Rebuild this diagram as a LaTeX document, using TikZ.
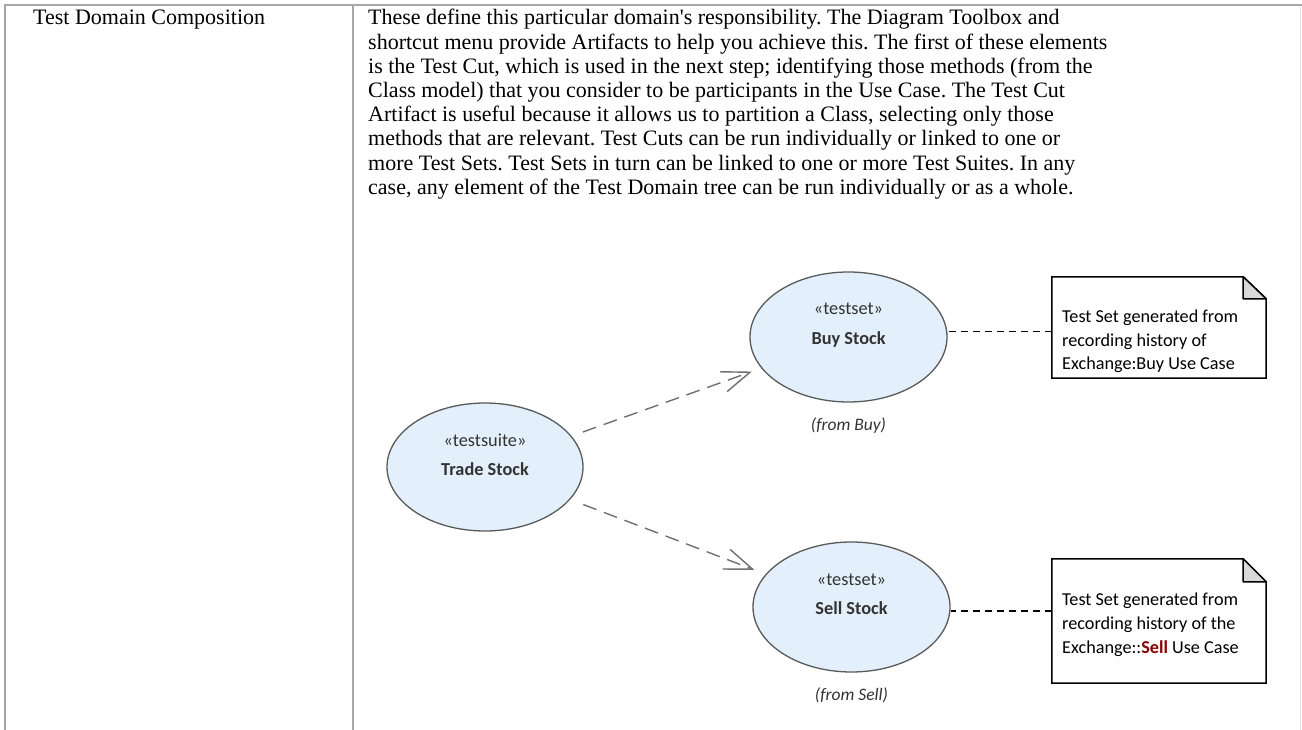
\documentclass[tikz,border=0pt]{standalone}
\usepackage{fontspec}
\setmainfont{Liberation Serif}[Ligatures=TeXOff]
\newfontfamily\calfont{Carlito}
\usetikzlibrary{shapes.geometric,arrows.meta,calc}
\definecolor{tablegray}{HTML}{A6A6A6}
\definecolor{ucfill}{HTML}{E3EFFB}
\definecolor{ucdraw}{HTML}{5A5A5A}
\definecolor{ucarrow}{HTML}{707070}
\definecolor{uctext}{HTML}{333333}
\definecolor{foldgray}{HTML}{D9D9D9}
\definecolor{sellred}{HTML}{8B0000}
\frenchspacing
\begin{document}
\begin{tikzpicture}[x=1pt,y=-1pt,
  tableline/.style={draw=tablegray,line width=2pt},
  bodytext/.style={anchor=base west,inner sep=0pt,font=\fontsize{22}{24.2}\selectfont},
  usecase/.style={ellipse,draw=ucdraw,fill=ucfill,line width=1.3pt,minimum width=196pt,minimum height=128pt,inner sep=0pt},
  stereo/.style={inner sep=0pt,text=uctext,font=\calfont\fontsize{18.3}{20}\selectfont},
  ucname/.style={inner sep=0pt,text=uctext,font=\calfont\bfseries\fontsize{18.3}{20}\selectfont},
  fromtxt/.style={inner sep=0pt,text=uctext,font=\calfont\itshape\fontsize{17.5}{20}\selectfont},
  notebox/.style={rectangle,inner sep=0pt},
  notetext/.style={anchor=north west,inner sep=0pt,align=left,font=\calfont\fontsize{18.2}{23.7}\selectfont},
  depend/.style={draw=ucarrow,line width=1.4pt,dash pattern=on 14pt off 8pt,-{Straight Barb[length=28pt,width=21pt,line width=1.4pt]}},
  notelink/.style={draw=black,line width=1.3pt,dash pattern=on 7pt off 5pt}
]
\useasboundingbox (0,0) rectangle (1302,730);
\fill[white] (0,0) rectangle (1302,730);

% table frame
\draw[tableline] (5,5) -- (1302,5);
\draw[tableline] (5,4) -- (5,730);
\draw[tableline] (353,4) -- (353,730);
\draw[draw=black!12,line width=1.5pt] (1300.5,6) -- (1300.5,730);

% table texts
\node[bodytext] (lbl) at (33,25) {Test Domain Composition};
\node[bodytext] (t1) at (368,25) {These define this particular domain's responsibility. The Diagram Toolbox and};
\node[bodytext] (t2) at (368,49.2) {shortcut menu provide Artifacts to help you achieve this. The first of these elements};
\node[bodytext] (t3) at (368,73.4) {is the Test Cut, which is used in the next step; identifying those methods (from the};
\node[bodytext] (t4) at (368,97.6) {Class model) that you consider to be participants in the Use Case. The Test Cut};
\node[bodytext] (t5) at (368,121.8) {Artifact is useful because it allows us to partition a Class, selecting only those};
\node[bodytext] (t6) at (368,146) {methods that are relevant. Test Cuts can be run individually or linked to one or};
\node[bodytext] (t7) at (368,170.2) {more Test Sets. Test Sets in turn can be linked to one or more Test Suites. In any};
\node[bodytext] (t8) at (368,194.4) {case, any element of the Test Domain tree can be run individually or as a whole.};

% use cases
\node[usecase] (trade) at (485,467) {};
\node[stereo] (tradeS) at (485,440.5) {«testsuite»};
\node[ucname] (tradeN) at (485,469.5) {Trade Stock};

\node[usecase,minimum width=197pt,minimum height=130pt] (buy) at (848.5,337) {};
\node[stereo] (buyS) at (848.5,308.5) {«testset»};
\node[ucname] (buyN) at (848.5,339.5) {Buy Stock};
\node[fromtxt] (buyF) at (848.5,425.5) {(from Buy)};

\node[usecase,minimum width=197pt,minimum height=130pt] (sell) at (851.5,607) {};
\node[stereo] (sellS) at (851.5,579.5) {«testset»};
\node[ucname] (sellN) at (851.5,608.5) {Sell Stock};
\node[fromtxt] (sellF) at (851.5,695.5) {(from Sell)};

% notes
\node[notebox,minimum width=214pt,minimum height=101pt] (n1) at (1159,327.5) {};
\filldraw[fill=white,draw=black,line width=1.5pt]
  (n1.north west) -- ($(n1.north east)+(-23,0)$) -- ($(n1.north east)+(0,22)$) -- (n1.south east) -- (n1.south west) -- cycle;
\filldraw[fill=foldgray,draw=black,line width=1.5pt,line join=round]
  ($(n1.north east)+(-23,0)$) -- ($(n1.north east)+(-23,22)$) -- ($(n1.north east)+(0,22)$) -- cycle;
\node[notetext] (n1t) at (1062,309.5) {Test Set generated from\\recording history of\\Exchange:Buy Use Case};

\node[notebox,minimum width=214pt,minimum height=124pt] (n2) at (1159,621) {};
\filldraw[fill=white,draw=black,line width=1.5pt]
  (n2.north west) -- ($(n2.north east)+(-23,0)$) -- ($(n2.north east)+(0,23)$) -- (n2.south east) -- (n2.south west) -- cycle;
\filldraw[fill=foldgray,draw=black,line width=1.5pt,line join=round]
  ($(n2.north east)+(-23,0)$) -- ($(n2.north east)+(-23,23)$) -- ($(n2.north east)+(0,23)$) -- cycle;
\node[notetext] (n2t) at (1062,593) {Test Set generated from\\recording history of the\\Exchange::\textcolor{sellred}{\bfseries Sell} Use Case};

% connectors
\draw[depend,shorten <=12pt,shorten >=10pt] (trade) -- (buy);
\draw[depend,shorten <=14pt,shorten >=12pt] (trade) -- (sell);
\coordinate (n1pin) at ($(n1.west)+(0,4)$);
\coordinate (n2pin) at ($(n2.west)+(0,-10)$);
\draw[notelink] (n1pin) -- (n1pin -| buy.east);
\draw[notelink] (n2pin) -- (n2pin -| sell.east);
\end{tikzpicture}
\end{document}
